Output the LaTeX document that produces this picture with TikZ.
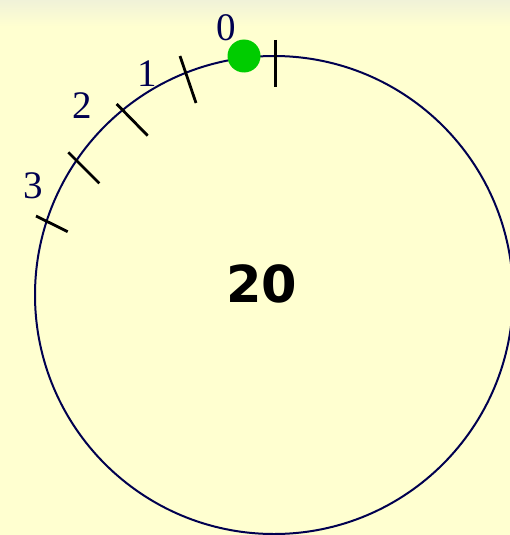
\documentclass[tikz,border=0pt]{standalone}
\usepackage{fontspec}
\setmainfont{Liberation Serif}
\newfontfamily\numfont{DejaVu Sans}
\definecolor{bgyellow}{RGB}{255,255,208}
\definecolor{bgtop}{RGB}{240,242,216}
\definecolor{navy}{RGB}{0,0,80}
\definecolor{dotgreen}{RGB}{0,204,0}
\tikzset{
  ticklabel/.style={text=navy, font=\fontsize{39}{39}\selectfont, inner sep=0pt},
  tickline/.style={draw=black, line width=2.8pt},
  rim/.style={draw=navy, line width=2pt},
}
\begin{document}
\begin{tikzpicture}[x=1pt,y=-1pt]
\useasboundingbox (0,0) rectangle (510,535);
\clip (0,0) rectangle (510,535);
\fill[bgyellow] (0,0) rectangle (510,535);
\shade[top color=bgtop, bottom color=bgyellow] (0,0) rectangle (510,26);
\draw[rim] (274,295) circle (239);
\draw[tickline] (275.7,40) -- (275.7,87);
\draw[tickline] (180,56) -- (196,103);
\draw[tickline] (116.7,104) -- (147.7,135.7);
\draw[tickline] (68.3,152.3) -- (99.3,183.3);
\draw[tickline] (36,216) -- (67.7,231.7);
\fill[dotgreen] (244,56) circle (16.5);
\node[ticklabel] (l0) at (226,27.5) {0};
\node[ticklabel] (l1) at (147,74) {1};
\node[ticklabel] (l2) at (82,105.5) {2};
\node[ticklabel] (l3) at (33.5,186) {3};
\node[font=\numfont\bfseries\fontsize{51}{51}\selectfont, inner sep=0pt] (num) at (261.5,283.5) {20};
\end{tikzpicture}
\end{document}
